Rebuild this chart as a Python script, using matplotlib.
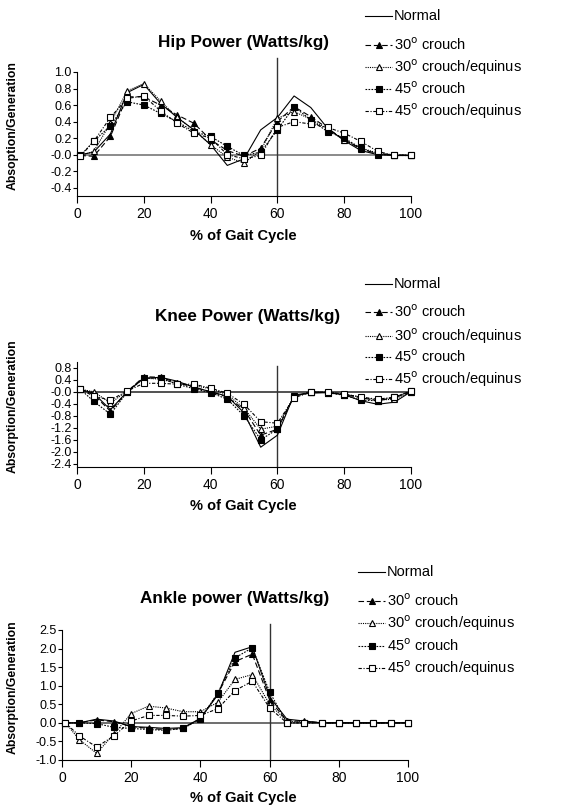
import matplotlib.pyplot as plt
from matplotlib.lines import Line2D

plt.rcParams['font.family'] = ['Liberation Sans', 'DejaVu Sans']

# % of gait cycle
gait = [1, 5, 10, 15, 20, 25, 30, 35, 40, 45, 50, 55, 60, 65, 70, 75, 80, 85, 90, 95, 100]

series_names = ['Normal', '30$^\\mathrm{o}$ crouch', '30$^\\mathrm{o}$ crouch/equinus',
                '45$^\\mathrm{o}$ crouch', '45$^\\mathrm{o}$ crouch/equinus']

# Hip power (W/kg)
hip_normal = [0.0, 0.03, 0.25, 0.75, 0.85, 0.62, 0.45, 0.30, 0.12, -0.13, -0.05, 0.30, 0.45, 0.71, 0.57, 0.32, 0.17, 0.05, 0.0, -0.01, -0.01]
hip_c30 = [-0.01, -0.02, 0.22, 0.70, 0.70, 0.60, 0.48, 0.38, 0.18, 0.05, -0.02, 0.08, 0.40, 0.58, 0.46, 0.32, 0.18, 0.07, 0.01, 0.0, -0.01]
hip_c30e = [-0.01, 0.04, 0.38, 0.77, 0.86, 0.65, 0.45, 0.30, 0.12, -0.03, -0.10, 0.05, 0.44, 0.52, 0.43, 0.31, 0.18, 0.08, 0.02, -0.01, -0.01]
hip_c45 = [-0.01, 0.16, 0.35, 0.64, 0.60, 0.50, 0.40, 0.28, 0.22, 0.10, -0.01, 0.03, 0.30, 0.58, 0.42, 0.28, 0.20, 0.08, 0.0, 0.0, -0.01]
hip_c45e = [-0.02, 0.16, 0.45, 0.68, 0.71, 0.53, 0.38, 0.26, 0.20, 0.0, -0.05, -0.01, 0.33, 0.40, 0.37, 0.33, 0.26, 0.16, 0.04, -0.01, -0.01]

# Knee power (W/kg)
knee_normal = [0.08, -0.05, -0.60, 0.0, 0.45, 0.48, 0.35, 0.15, 0.0, -0.15, -0.70, -1.85, -1.45, -0.10, -0.05, -0.03, -0.10, -0.30, -0.42, -0.35, 0.0]
knee_c30 = [0.08, -0.10, -0.65, 0.0, 0.50, 0.48, 0.30, 0.15, 0.0, -0.18, -0.60, -1.45, -1.25, -0.15, -0.02, -0.03, -0.10, -0.20, -0.30, -0.20, 0.0]
knee_c30e = [0.08, 0.0, -0.38, 0.02, 0.45, 0.42, 0.28, 0.20, 0.10, -0.10, -0.55, -1.25, -1.15, -0.15, -0.02, -0.02, -0.08, -0.18, -0.28, -0.25, 0.0]
knee_c45 = [0.08, -0.32, -0.75, -0.02, 0.45, 0.45, 0.25, 0.10, -0.03, -0.25, -0.80, -1.60, -1.25, -0.15, 0.0, -0.03, -0.12, -0.28, -0.30, -0.18, 0.02]
knee_c45e = [0.08, -0.15, -0.28, 0.02, 0.28, 0.28, 0.25, 0.25, 0.12, -0.05, -0.42, -1.0, -1.05, -0.20, -0.02, -0.02, -0.08, -0.18, -0.25, -0.18, 0.02]

# Ankle power (W/kg)
ankle_normal = [0.0, 0.0, 0.10, 0.05, -0.10, -0.12, -0.15, -0.13, 0.12, 0.75, 1.90, 2.05, 0.70, 0.10, 0.05, 0.0, 0.0, 0.0, 0.0, 0.0, 0.0]
ankle_c30 = [0.0, 0.0, 0.08, 0.03, -0.10, -0.15, -0.18, -0.15, 0.12, 0.78, 1.65, 1.85, 0.62, 0.05, 0.05, 0.0, 0.0, 0.0, 0.0, 0.0, 0.0]
ankle_c30e = [0.0, -0.45, -0.82, -0.30, 0.25, 0.45, 0.40, 0.30, 0.30, 0.55, 1.17, 1.30, 0.50, 0.05, 0.02, 0.0, 0.0, 0.0, 0.0, 0.0, 0.0]
ankle_c45 = [0.0, 0.0, -0.02, -0.12, -0.15, -0.18, -0.20, -0.15, 0.10, 0.80, 1.75, 2.02, 0.83, 0.0, 0.0, 0.0, 0.0, 0.0, 0.0, 0.0, 0.0]
ankle_c45e = [0.0, -0.35, -0.65, -0.35, 0.05, 0.20, 0.20, 0.18, 0.20, 0.38, 0.87, 1.12, 0.40, 0.0, 0.0, 0.0, 0.0, 0.0, 0.0, 0.0, 0.0]

hip_ticks = [1.0, 0.8, 0.6, 0.4, 0.2, 0.0, -0.2, -0.4]
hip_ticklabels = ['1.0', '0.8', '0.6', '0.4', '0.2', '-0.0', '-0.2', '-0.4']
knee_ticks = [0.8, 0.4, 0.0, -0.4, -0.8, -1.2, -1.6, -2.0, -2.4]
knee_ticklabels = ['0.8', '0.4', '-0.0', '-0.4', '-0.8', '-1.2', '-1.6', '-2.0', '-2.4']
ankle_ticks = [2.5, 2.0, 1.5, 1.0, 0.5, 0.0, -0.5, -1.0]
ankle_ticklabels = ['2.5', '2.0', '1.5', '1.0', '0.5', '0.0', '-0.5', '-1.0']
x_ticks = [0, 20, 40, 60, 80, 100]

# line styles per series
styles = [
    dict(ls='-', marker='None', mfc='black'),
    dict(ls=(0, (5, 2.5)), marker='^', mfc='black'),
    dict(ls=(0, (1, 1)), marker='^', mfc='white'),
    dict(ls=(0, (1.5, 1.2)), marker='s', mfc='black'),
    dict(ls=(0, (3, 1.5, 1, 1.5)), marker='s', mfc='white'),
]

W, H = 571, 809
fig = plt.figure(figsize=(W / 100, H / 100), dpi=100)


def px_axes(left, right, top, bottom):
    return fig.add_axes([left / W, 1 - bottom / H, (right - left) / W, (bottom - top) / H])


def panel(ax, data, ylim, ticks, ticklabels, title, ylabel, vmax, zero_color,
          title_y, title_x, leg_ys, leg_x0, ylab_y, xlab_y):
    for vals, st in zip(data, styles):
        ax.plot(gait, vals, color='black', lw=0.8, linestyle=st['ls'], marker=st['marker'],
                mfc=st['mfc'], mec='black', ms=4.8 if st['marker'] == 's' else 5, mew=0.8,
                clip_on=False, zorder=3)
    ax.axhline(0, color=zero_color, lw=1.2, zorder=1)
    ax.axvline(60, ymin=0, ymax=vmax, color='#333333', lw=1.0, clip_on=False, zorder=1)
    ax.set_xlim(0, 100)
    ax.set_ylim(*ylim)
    ax.set_xticks(x_ticks)
    ax.set_yticks(ticks)
    ax.set_yticklabels(ticklabels)
    ax.spines['top'].set_visible(False)
    ax.spines['right'].set_visible(False)
    ax.tick_params(axis='x', direction='out', length=5, labelsize=10, pad=3)
    ax.tick_params(axis='y', direction='out', length=3, labelsize=9, pad=1)
    ax.set_facecolor('none')
    fig.text(title_x / W, 1 - title_y / H, title, fontsize=12.3, fontweight='bold',
             ha='center', va='center')
    fig.text(243 / W, 1 - xlab_y / H, '% of Gait Cycle', fontsize=10.5, fontweight='bold',
             ha='center', va='center')
    fig.text(13 / W, 1 - ylab_y / H, ylabel, fontsize=8.8, fontweight='bold', rotation=90,
             ha='center', va='center')
    # legend drawn in figure pixels
    for name, st, ly in zip(series_names, styles, leg_ys):
        yy = 1 - ly / H
        fig.add_artist(Line2D([leg_x0 / W, (leg_x0 + 27) / W], [yy, yy], color='black', lw=0.8,
                              linestyle=st['ls'], transform=fig.transFigure))
        if st['marker'] != 'None':
            fig.add_artist(Line2D([(leg_x0 + 13.5) / W], [yy], marker=st['marker'], mfc=st['mfc'],
                                  mec='black', ms=4.8 if st['marker'] == 's' else 5, mew=0.8,
                                  transform=fig.transFigure))
        fig.text((leg_x0 + 29) / W, yy, name, fontsize=10.5, ha='left', va='center')


ax1 = px_axes(77, 411, 72, 196)
panel(ax1, [hip_normal, hip_c30, hip_c30e, hip_c45, hip_c45e], (-0.5, 1.0),
      hip_ticks, hip_ticklabels, 'Hip Power (Watts/kg)', 'Absoption/Generation', 1.11, '#777777',
      43, 243, [16, 45, 67, 89, 111], 365, 126, 236)

ax2 = px_axes(77, 411, 361.7, 466.7)
panel(ax2, [knee_normal, knee_c30, knee_c30e, knee_c45, knee_c45e], (-2.5, 1.0),
      knee_ticks, knee_ticklabels, 'Knee Power (Watts/kg)', 'Absorption/Generation', 0.96, '#333333',
      317, 248, [284, 312, 336, 357, 379], 365, 406, 506)

ax3 = px_axes(62, 408, 630, 760)
panel(ax3, [ankle_normal, ankle_c30, ankle_c30e, ankle_c45, ankle_c45e], (-1.0, 2.5),
      ankle_ticks, ankle_ticklabels, 'Ankle power (Watts/kg)', 'Absorption/Generation', 1.05, '#555555',
      599, 235, [572, 601, 623, 646, 668], 358, 687, 798)

fig.savefig('out.png', dpi=100)
